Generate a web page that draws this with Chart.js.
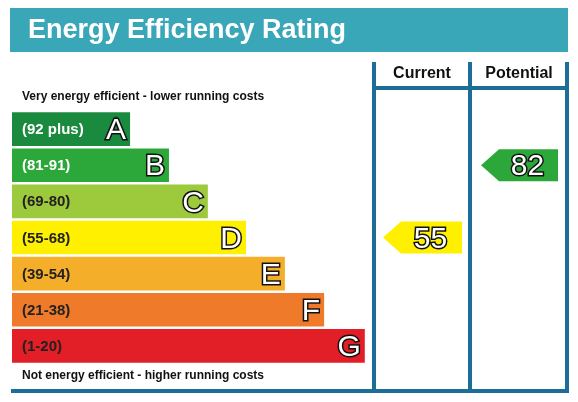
<!DOCTYPE html>
<html>
<head>
<meta charset="utf-8">
<script src="https://cdn.jsdelivr.net/npm/chart.js@4.4.0/dist/chart.umd.min.js"></script>
<style>
  body { margin: 0; background: #fff; }
  canvas { display: block; }
</style>
</head>
<body>
<canvas id="epc" width="578" height="402"></canvas>
<script>
const bands = ['A', 'B', 'C', 'D', 'E', 'F', 'G'];
const ranges = ['(92 plus)', '(81-91)', '(69-80)', '(55-68)', '(39-54)', '(21-38)', '(1-20)'];
const barLengths = [32.8, 43.6, 54.4, 65, 75.8, 86.7, 98];
const bandColors = ['#1a8a3f', '#2ca739', '#9dca3c', '#fff000', '#f5ae2a', '#ee7a2a', '#e21e26'];
const rangeTextColors = ['#fff', '#fff', '#222', '#222', '#222', '#222', '#222'];
const currentRating = 55;
const potentialRating = 82;

function bandOf(score) {
    const mins = [92, 81, 69, 55, 39, 21, 1];
    return mins.findIndex(m => score >= m);
}

const frameColor = '#1c6e96';

const epcPlugin = {
    id: 'epc',
    afterDraw(chart) {
        const ctx = chart.ctx;
        const y = chart.scales.y;
        const x = chart.scales.x;
        ctx.save();

        // title band
        ctx.fillStyle = '#3aa7b9';
        ctx.fillRect(10, 8, 558, 44);
        ctx.fillStyle = '#fff';
        ctx.font = 'bold 27px "Liberation Sans", Arial, sans-serif';
        ctx.textBaseline = 'middle';
        ctx.fillText('Energy Efficiency Rating', 28, 31);

        // frame
        ctx.strokeStyle = frameColor;
        ctx.lineWidth = 4;
        ctx.beginPath();
        ctx.moveTo(374, 62); ctx.lineTo(374, 391);
        ctx.moveTo(470, 62); ctx.lineTo(470, 391);
        ctx.moveTo(567, 62); ctx.lineTo(567, 391);
        ctx.moveTo(374, 88); ctx.lineTo(567, 88);
        ctx.moveTo(11, 391); ctx.lineTo(569, 391);
        ctx.stroke();

        ctx.fillStyle = '#111';
        ctx.font = 'bold 16px "Liberation Sans", Arial, sans-serif';
        ctx.textAlign = 'center';
        ctx.fillText('Current', 422, 74);
        ctx.fillText('Potential', 519, 74);

        ctx.textAlign = 'left';
        ctx.font = 'bold 12px "Liberation Sans", Arial, sans-serif';
        ctx.fillText('Very energy efficient - lower running costs', 22, 97);
        ctx.fillText('Not energy efficient - higher running costs', 22, 376);

        // band labels
        bands.forEach((b, i) => {
            const cy = y.getPixelForValue(i);
            const end = x.getPixelForValue(barLengths[i]);
            ctx.textAlign = 'left';
            ctx.font = 'bold 15px "Liberation Sans", Arial, sans-serif';
            ctx.fillStyle = rangeTextColors[i];
            ctx.fillText(ranges[i], 22, cy + 1);
            ctx.textAlign = 'right';
            ctx.font = '30px "Liberation Sans", Arial, sans-serif';
            ctx.lineWidth = 3;
            ctx.strokeStyle = '#111';
            ctx.strokeText(b, end - 4, cy + 2);
            ctx.fillStyle = '#fff';
            ctx.fillText(b, end - 4, cy + 2);
        });

        // arrows
        function arrow(score, left, right) {
            const i = bandOf(score);
            const cy = y.getPixelForValue(i);
            const h = 16;
            ctx.fillStyle = bandColors[i];
            ctx.beginPath();
            ctx.moveTo(left, cy);
            ctx.lineTo(left + 18, cy - h);
            ctx.lineTo(right, cy - h);
            ctx.lineTo(right, cy + h);
            ctx.lineTo(left + 18, cy + h);
            ctx.closePath();
            ctx.fill();
            ctx.textAlign = 'center';
            ctx.font = '30px "Liberation Sans", Arial, sans-serif';
            ctx.lineWidth = 3;
            ctx.strokeStyle = '#111';
            ctx.strokeText(String(score), (left + right) / 2 + 8, cy + 2);
            ctx.fillStyle = '#fff';
            ctx.fillText(String(score), (left + right) / 2 + 8, cy + 2);
        }
        arrow(currentRating, 383, 462);
        arrow(potentialRating, 481, 558);

        ctx.restore();
    }
};

new Chart(document.getElementById('epc').getContext('2d'), {
    type: 'bar',
    data: {
        labels: bands,
        datasets: [{
            data: barLengths,
            backgroundColor: bandColors,
            barPercentage: 1,
            categoryPercentage: 0.93
        }]
    },
    options: {
        indexAxis: 'y',
        responsive: false,
        animation: false,
        layout: { padding: { left: 12, right: 206, top: 111, bottom: 38 } },
        plugins: { legend: { display: false }, tooltip: { enabled: false } },
        scales: {
            x: { display: false, min: 0, max: 100 },
            y: { display: false }
        }
    },
    plugins: [epcPlugin]
});
</script>
</body>
</html>
